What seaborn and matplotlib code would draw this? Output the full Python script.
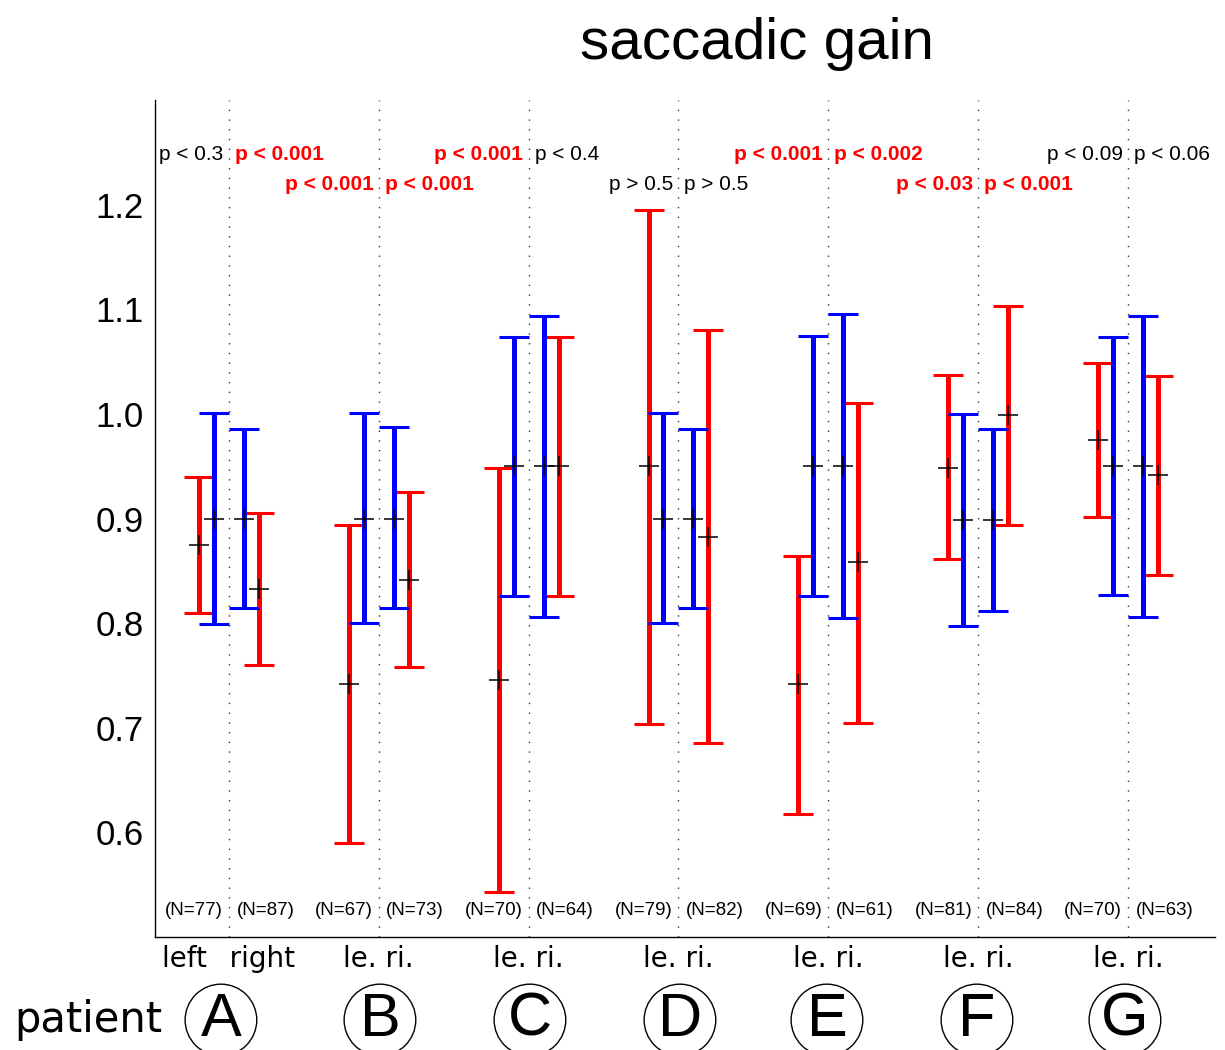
import numpy as np
import pandas as pd
import matplotlib
matplotlib.use("Agg")
import matplotlib.pyplot as plt
import seaborn as sns

# ---------------- data ----------------
patients = ["A", "B", "C", "D", "E", "F", "G"]
tick_labels = ["left\u2002 right", "le. ri.", "le. ri.", "le. ri.", "le. ri.", "le. ri.", "le. ri."]

left_red_mean = [0.875, 0.742, 0.746, 0.950, 0.742, 0.948, 0.975]
left_red_lo = [0.810, 0.590, 0.543, 0.704, 0.618, 0.861, 0.901]
left_red_hi = [0.940, 0.894, 0.948, 1.195, 0.864, 1.037, 1.049]

left_blue_mean = [0.900, 0.900, 0.950, 0.900, 0.950, 0.899, 0.950]
left_blue_lo = [0.799, 0.800, 0.826, 0.800, 0.826, 0.797, 0.827]
left_blue_hi = [1.001, 1.001, 1.073, 1.001, 1.074, 1.000, 1.073]

right_blue_mean = [0.900, 0.900, 0.950, 0.900, 0.950, 0.899, 0.950]
right_blue_lo = [0.814, 0.814, 0.806, 0.814, 0.805, 0.812, 0.806]
right_blue_hi = [0.986, 0.987, 1.094, 0.986, 1.095, 0.986, 1.094]

right_red_mean = [0.833, 0.841, 0.950, 0.882, 0.858, 0.999, 0.942]
right_red_lo = [0.760, 0.758, 0.826, 0.685, 0.705, 0.894, 0.846]
right_red_hi = [0.905, 0.925, 1.073, 1.080, 1.010, 1.103, 1.036]

n_left = [77, 67, 70, 79, 69, 81, 70]
n_right = [87, 73, 64, 82, 61, 84, 63]

p_left = ["p < 0.3", "p < 0.001", "p < 0.001", "p > 0.5", "p < 0.001", "p < 0.03", "p < 0.09"]
p_left_sig = [False, True, True, False, True, True, False]
p_right = ["p < 0.001", "p < 0.001", "p < 0.4", "p > 0.5", "p < 0.002", "p < 0.001", "p < 0.06"]
p_right_sig = [True, True, False, False, True, True, False]
p_row = [1, 2, 1, 2, 1, 2, 1]

# ---------------- table ----------------
groups = [
    ("left", "red", -0.2, left_red_mean, left_red_lo, left_red_hi),
    ("left", "blue", -0.1, left_blue_mean, left_blue_lo, left_blue_hi),
    ("right", "blue", 0.1, right_blue_mean, right_blue_lo, right_blue_hi),
    ("right", "red", 0.2, right_red_mean, right_red_lo, right_red_hi),
]
rows = []
for side, col, off, m, lo, hi in groups:
    for i, p in enumerate(patients):
        rows.append(dict(patient=p, pos=i + 1 + off, side=side, color=col,
                         mean=m[i], lo=lo[i], hi=hi[i]))
df = pd.DataFrame(rows)

# ---------------- plot ----------------
sns.set_theme(style="white")
plt.rcParams["font.family"] = ["Liberation Sans", "DejaVu Sans"]
for k in ["text.color", "axes.labelcolor", "xtick.color", "ytick.color", "axes.edgecolor"]:
    plt.rcParams[k] = "black"

fig = plt.figure(figsize=(12.25, 10.5), dpi=100)
ax = fig.add_axes([155 / 1225, 1 - 937 / 1050, (1215 - 155) / 1225, (937 - 100) / 1050])

palette = {"red": "#ff0000", "blue": "#0000ff"}
for col in ["red", "blue"]:
    sub = df[df["color"] == col]
    ax.errorbar(sub["pos"], sub["mean"],
                yerr=[sub["mean"] - sub["lo"], sub["hi"] - sub["mean"]],
                fmt="none", ecolor=palette[col], elinewidth=3.6,
                capsize=10.5, capthick=2.2, zorder=2)

sns.scatterplot(data=df, x="pos", y="mean", marker="+", color="black",
                s=220, linewidth=1.1, ax=ax, zorder=4, legend=False)

xs = np.arange(1, len(patients) + 1)
for x in xs:
    ax.axvline(x, color="#333333", lw=1.0, ls=(0, (1, 6)), zorder=1)

ax.set_xlim(0.507, 7.58)
ax.set_ylim(0.5, 1.3)
ax.set_xlabel("")
ax.set_ylabel("")

yt = [0.5, 0.6, 0.7, 0.8, 0.9, 1.0, 1.1, 1.2, 1.3]
ax.set_yticks(yt)
ax.set_yticklabels([""] + [f"{v:.1f}" for v in yt[1:-1]] + [""], fontsize=25)
ax.set_xticks(xs)
ax.set_xticklabels(tick_labels, fontsize=20, family="DejaVu Sans")
ax.tick_params(axis="both", direction="in", length=8, width=1, color="black")
ax.tick_params(axis="y", pad=8)
ax.tick_params(axis="x", pad=6)

for s in ["top", "right"]:
    ax.spines[s].set_visible(False)
for s in ["left", "bottom"]:
    ax.spines[s].set_color("black")
    ax.spines[s].set_linewidth(1.0)

# p-values
row_y = {1: 1.2428, 2: 1.214}
for i, x in enumerate(xs):
    y = row_y[p_row[i]]
    ax.text(x - 0.035, y, p_left[i], ha="right", va="baseline", fontsize=15,
            color="#ff0000" if p_left_sig[i] else "black",
            fontweight="bold" if p_left_sig[i] else "normal")
    ax.text(x + 0.04, y, p_right[i], ha="left", va="baseline", fontsize=15,
            color="#ff0000" if p_right_sig[i] else "black",
            fontweight="bold" if p_right_sig[i] else "normal")
    ax.text(x - 0.04, 0.5215, f"(N={n_left[i]})", ha="right", va="baseline", fontsize=13.5)
    ax.text(x + 0.05, 0.5215, f"(N={n_right[i]})", ha="left", va="baseline", fontsize=13.5)

# title
fig.text(757 / 1225, 1 - 59 / 1050, "saccadic gain", ha="center", va="baseline", fontsize=42)

# patient labels
fig.text(14 / 1225, 1 - 1020 / 1050, "patient", ha="left", va="center", fontsize=30,
         family="DejaVu Sans")
letter_shift_px = [-8, 1, 1, 1, -2, -2, -4]
for i, p in enumerate(patients):
    xfig = (155 + (xs[i] - 0.507) * 150 + letter_shift_px[i]) / 1225
    fig.text(xfig, 1 - 1020 / 1050, p, ha="center", va="center", fontsize=44,
             bbox=dict(boxstyle="circle,pad=0.12", fc="white", ec="black", lw=1.0))

fig.savefig("out.png", dpi=100)
